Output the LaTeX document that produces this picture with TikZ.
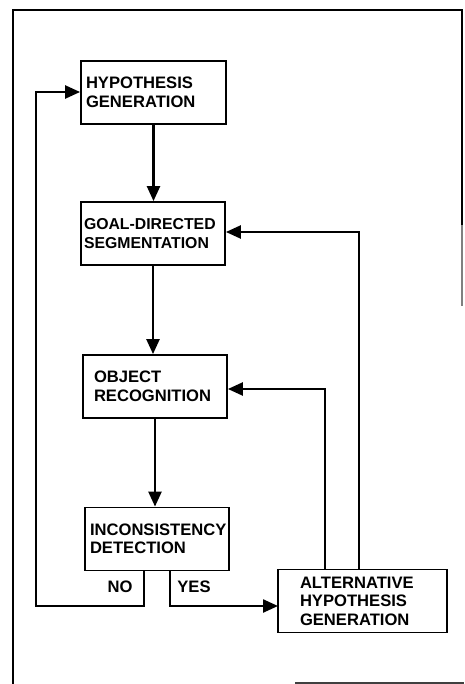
\documentclass[tikz,border=0pt]{standalone}
\usepackage{fontspec}
\setmainfont{Liberation Sans}
\usetikzlibrary{arrows.meta}
\begin{document}
\begin{tikzpicture}[x=1pt,y=-1pt,
  box/.style={draw, line width=1.8pt, rectangle, minimum height=63pt, align=left,
    font=\bfseries\fontsize{16.6}{18.5}\selectfont, inner ysep=0pt},
  conn/.style={line width=2.4pt, -{Triangle[length=15pt,width=13pt]}},
  frame/.style={line width=2.2pt},
  lbl/.style={font=\bfseries\fontsize{16.6}{18.5}\selectfont, inner sep=0pt}]
\useasboundingbox (0,0) rectangle (464,684);
% frame
\draw[frame] (13,684) -- (13,10) -- (462,10) -- (462,225);
\draw[frame, black!50] (462,225) -- (462,306);
\draw[frame, black!75] (295,683) -- (464,683);
% boxes
\node[box, text width=135pt, inner xsep=5pt] (hg) at (153.5,92.5) {HYPOTHESIS\\GENERATION};
\node[box, text width=138pt, inner xsep=3pt, font=\bfseries\fontsize{15.8}{18.5}\selectfont] (gds) at (153,233.5) {\mbox{GOAL-DIRECTED}\\SEGMENTATION};
\node[box, text width=122pt, inner xsep=11pt] (or) at (155,386.5) {OBJECT\\RECOGNITION};
\node[box, text width=134pt, inner xsep=5pt] (id) at (157,539) {INCONSISTENCY\\DETECTION};
\node[box, text width=125pt, inner xsep=22pt] (ahg) at (362.5,601) {ALTERNATIVE\\HYPOTHESIS\\GENERATION};
% coordinates
\coordinate (noA) at (144,571);
\coordinate (noB) at (144,606);
\coordinate (noC) at (36,606);
\coordinate (noD) at (36,92);
\coordinate (yesA) at (170,571);
\coordinate (yesB) at (170,606);
\coordinate (yesC) at (278,606);
\coordinate (fb1) at (359,569);
\coordinate (fb1t) at (359,232);
\coordinate (fb2) at (325,569);
\coordinate (fb2t) at (325,389);
% main flow
\draw[conn] (hg.south) -- (hg.south |- gds.north);
\draw[conn] (gds.south) -- (gds.south |- or.north);
\draw[conn] (or.south) -- (or.south |- id.north);
% no / yes
\draw[conn] (noA) -- (noB) -- (noC) -- (noD) -- (hg.west |- noD);
\draw[conn] (yesA) -- (yesB) -- (yesC);
% feedback
\draw[conn] (fb1) -- (fb1t) -- (gds.east |- fb1t);
\draw[conn] (fb2) -- (fb2t) -- (or.east |- fb2t);
% labels
\node[lbl] (no) at (120,587) {NO};
\node[lbl] (yes) at (194,587) {YES};
\end{tikzpicture}
\end{document}
